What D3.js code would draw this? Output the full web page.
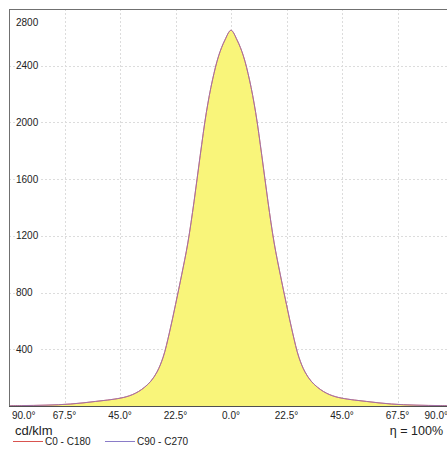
<!DOCTYPE html>
<html><head><meta charset="utf-8">
<script src="https://cdn.jsdelivr.net/npm/d3@7/dist/d3.min.js"></script>
<style>
html,body{margin:0;padding:0;background:#fff;}
svg{display:block;font-family:"Liberation Sans",Arial,sans-serif;}
</style></head>
<body>
<svg id="c" width="447" height="449"></svg>
<script>
const angles = [-90,-85,-80,-75,-70,-65,-60,-55,-50,-45,-42.5,-40,-37.5,-35,-32.5,-30,-27.5,-25,-22.5,-20,-17.5,-15,-12.5,-10,-7.5,-5,-2.5,0,2.5,5,7.5,10,12.5,15,17.5,20,22.5,25,27.5,30,32.5,35,37.5,40,42.5,45,50,55,60,65,70,75,80,85,90];
const c0c180 = [2,3,4,6,9,14,22,32,42,55,65,80,102,133,175,240,345,515,715,925,1150,1440,1765,2070,2300,2470,2580,2650,2580,2470,2300,2070,1765,1440,1150,925,715,515,345,240,175,133,102,80,65,55,42,32,22,14,9,6,4,3,2];
const c90c270 = [2,3,4,6,9,14,22,32,42,55,65,80,102,133,175,240,345,515,715,925,1150,1440,1765,2070,2300,2470,2580,2650,2580,2470,2300,2070,1765,1440,1150,925,715,515,345,240,175,133,102,80,65,55,42,32,22,14,9,6,4,3,2];
const xTicks = [-90,-67.5,-45,-22.5,0,22.5,45,67.5,90];
const xTickLabels = ["90.0°","67.5°","45.0°","22.5°","0.0°","22.5°","45.0°","67.5°","90.0°"];
const yTicks = [400,800,1200,1600,2000,2400,2800];
const seriesNames = ["C0 - C180","C90 - C270"];
const seriesColors = ["#d9534f","#8a7cc8"];
const unitLabel = "cd/klm";
const effLabel = "η = 100%";

const svg = d3.select("#c");
const L = 9, R = 453, T = 9, B = 406;
const x = d3.scaleLinear().domain([-90,90]).range([L,R]);
const y = d3.scaleLinear().domain([0,2800]).range([B,T]);

svg.append("defs").append("clipPath").attr("id","pc")
  .append("rect").attr("x",L).attr("y",T).attr("width",R-L).attr("height",B-T);

const g = svg.append("g");
// grid
g.selectAll(".vg").data(xTicks.filter(d=>Math.abs(d)<90)).enter().append("line")
  .attr("x1",d=>Math.round(x(d))+0.5).attr("x2",d=>Math.round(x(d))+0.5)
  .attr("y1",T).attr("y2",B)
  .attr("stroke","#dcdcdc").attr("stroke-dasharray","2,2");
g.selectAll(".hg").data(yTicks.filter(d=>d<2800)).enter().append("line")
  .attr("x1",L).attr("x2",447)
  .attr("y1",d=>Math.round(y(d))+0.5).attr("y2",d=>Math.round(y(d))+0.5)
  .attr("stroke","#dcdcdc").attr("stroke-dasharray","2,2");

const pts0 = angles.map((a,i)=>[a,c0c180[i]]);
const pts1 = angles.map((a,i)=>[a,c90c270[i]]);
const curve = d3.curveCatmullRom.alpha(0.5);
const area = d3.area().x(d=>x(d[0])).y0(y(0)).y1(d=>y(d[1])).curve(curve);
const line = d3.line().x(d=>x(d[0])).y(d=>y(d[1])).curve(curve);
const pg = g.append("g").attr("clip-path","url(#pc)");
pg.append("path").datum(pts0).attr("d",area).attr("fill","#f9f57a");
pg.append("path").datum(pts0).attr("d",line).attr("fill","none").attr("stroke",seriesColors[0]).attr("stroke-width",1);
pg.append("path").datum(pts1).attr("d",line).attr("fill","none").attr("stroke",seriesColors[1]).attr("stroke-width",1).attr("stroke-opacity",0.7);

// frame
g.append("line").attr("x1",L+0.5).attr("x2",L+0.5).attr("y1",T).attr("y2",B).attr("stroke","#707070");
g.append("line").attr("x1",L).attr("x2",447).attr("y1",T+0.5).attr("y2",T+0.5).attr("stroke","#707070");
g.append("line").attr("x1",L).attr("x2",447).attr("y1",B+0.5).attr("y2",B+0.5).attr("stroke","#505050");

// y labels
const yl = g.selectAll(".yl").data(yTicks).enter().append("g")
  .attr("transform",d=>`translate(16,${d===2800?22:y(d)})`);
yl.append("rect").attr("x",-1).attr("y",-6).attr("width",25).attr("height",12).attr("fill","#fff");
yl.append("text").text(d=>d).attr("dy","0.35em").attr("font-size",10).attr("fill","#222");

// x labels
g.selectAll(".xl").data(xTicks).enter().append("text")
  .attr("x",(d,i)=> i===0 ? 12 : (i===xTicks.length-1 ? 448 : x(d)))
  .attr("text-anchor",(d,i)=> i===0 ? "start" : (i===xTicks.length-1 ? "end" : "middle"))
  .attr("y",419).attr("font-size",10).attr("fill","#222")
  .text((d,i)=>xTickLabels[i]);

svg.append("text").attr("x",15).attr("y",435).attr("font-size",13).attr("fill","#222").text(unitLabel);
svg.append("text").attr("x",443).attr("y",435).attr("text-anchor","end").attr("font-size",12.5).attr("fill","#222").text(effLabel);

// legend
const lx = [13,105];
seriesNames.forEach((n,i)=>{
  svg.append("line").attr("x1",lx[i]).attr("x2",lx[i]+30).attr("y1",441.5).attr("y2",441.5).attr("stroke",seriesColors[i]);
  svg.append("text").attr("x",lx[i]+32).attr("y",445).attr("font-size",10).attr("fill","#222").text(n);
});
</script>
</body></html>
